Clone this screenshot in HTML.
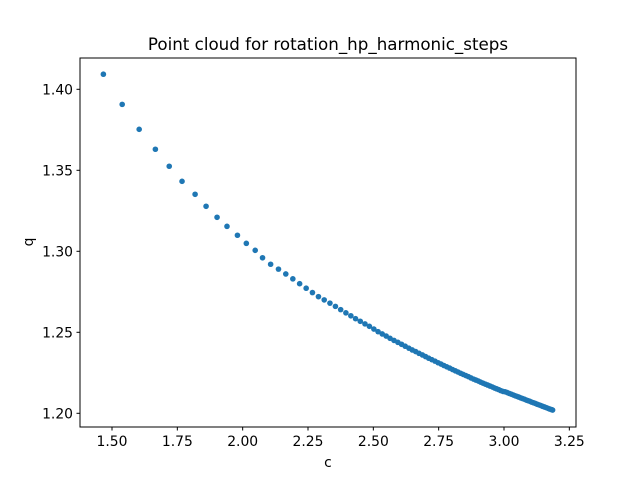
<!DOCTYPE html>
<html><head><meta charset="utf-8"><style>
body{margin:0;background:#fff;font-family:"Liberation Sans","DejaVu Sans",sans-serif}
svg text{font-family:"DejaVu Sans","Liberation Sans",sans-serif;fill:#000}
</style></head><body>
<svg id="chart" width="640" height="480" xmlns="http://www.w3.org/2000/svg">
<rect width="640" height="480" fill="#fff"/>
<text x="328" y="50" font-size="16.7" text-anchor="middle">Point cloud for rotation_hp_harmonic_steps</text>
<g id="marks"></g>
<rect x="80" y="58" width="496" height="369" fill="none" stroke="#000" stroke-width="1"/>
<g id="xt"></g>
<g id="yt"></g>
<text x="328" y="467" font-size="13.9" text-anchor="middle">c</text>
<text x="0" y="0" font-size="13.9" text-anchor="middle" transform="translate(33,242) rotate(-90)">q</text>
</svg>
<script>
const cValues=[1.467,1.539,1.604,1.666,1.719,1.768,1.818,1.860,1.902,1.940,1.980,2.014,2.048,2.076,2.107,2.137,2.165,2.192,2.218,2.243,2.267,2.290,2.312,2.334,2.355,2.375,2.395,2.414,2.432,2.450,2.468,2.485,2.502,2.518,2.534,2.549,2.564,2.579,2.594,2.608,2.622,2.636,2.649,2.662,2.675,2.688,2.700,2.712,2.724,2.736,2.748,2.759,2.770,2.781,2.792,2.803,2.814,2.824,2.834,2.844,2.854,2.864,2.874,2.884,2.893,2.902,2.911,2.920,2.929,2.938,2.947,2.956,2.964,2.972,2.980,2.988,2.996,3.004,3.012,3.020,3.028,3.036,3.043,3.050,3.057,3.064,3.071,3.078,3.085,3.092,3.099,3.106,3.113,3.120,3.127,3.134,3.141,3.148,3.155,3.162,3.169,3.176,3.183,3.186];
const qValues=[1.4093,1.3907,1.3753,1.3630,1.3525,1.3432,1.3352,1.3278,1.3210,1.3154,1.3099,1.3049,1.3006,1.2960,1.2920,1.2890,1.2860,1.2830,1.2800,1.2772,1.2745,1.2720,1.2700,1.2680,1.2660,1.2640,1.2620,1.2602,1.2584,1.2568,1.2552,1.2537,1.2520,1.2504,1.2490,1.2477,1.2463,1.2450,1.2438,1.2426,1.2414,1.2402,1.2391,1.2381,1.2370,1.2360,1.2350,1.2340,1.2331,1.2322,1.2312,1.2304,1.2295,1.2287,1.2279,1.2270,1.2262,1.2255,1.2247,1.2240,1.2233,1.2226,1.2218,1.2211,1.2205,1.2199,1.2192,1.2186,1.2180,1.2174,1.2168,1.2162,1.2156,1.2151,1.2146,1.2140,1.2135,1.2133,1.2128,1.2123,1.2118,1.2113,1.2108,1.2104,1.2100,1.2095,1.2091,1.2087,1.2082,1.2078,1.2074,1.2069,1.2065,1.2061,1.2056,1.2052,1.2048,1.2043,1.2039,1.2035,1.2030,1.2026,1.2022,1.2020];
const xTicks=[1.50,1.75,2.00,2.25,2.50,2.75,3.00,3.25];
const yTicks=[1.20,1.25,1.30,1.35,1.40];
const NS="http://www.w3.org/2000/svg";
const X=v=>112+(v-1.5)*261.33;
const Y=v=>413.3-(v-1.2)*1620;
function mk(t,a,p){const e=document.createElementNS(NS,t);for(const k in a)e.setAttribute(k,a[k]);p.appendChild(e);return e;}
const m=document.getElementById('marks');
cValues.forEach((c,i)=>{const e=mk('circle',{cx:X(c),cy:Y(qValues[i]),r:2.8,fill:'#1f77b4'},m);

});
const xt=document.getElementById('xt');
xTicks.forEach(v=>{const g=mk('g',{},xt);


mk('line',{x1:X(v),x2:X(v),y1:427,y2:430.5,stroke:'#000'},g);
const t=mk('text',{x:X(v),y:446,'font-size':13.9,'text-anchor':'middle'},g);t.textContent=v.toFixed(2);});
const yt=document.getElementById('yt');
yTicks.forEach(v=>{const g=mk('g',{},yt);


mk('line',{x1:76.5,x2:80,y1:Y(v),y2:Y(v),stroke:'#000'},g);
const t=mk('text',{x:73,y:Y(v)+5,'font-size':13.9,'text-anchor':'end'},g);t.textContent=v.toFixed(2);});
</script>
</body></html>
